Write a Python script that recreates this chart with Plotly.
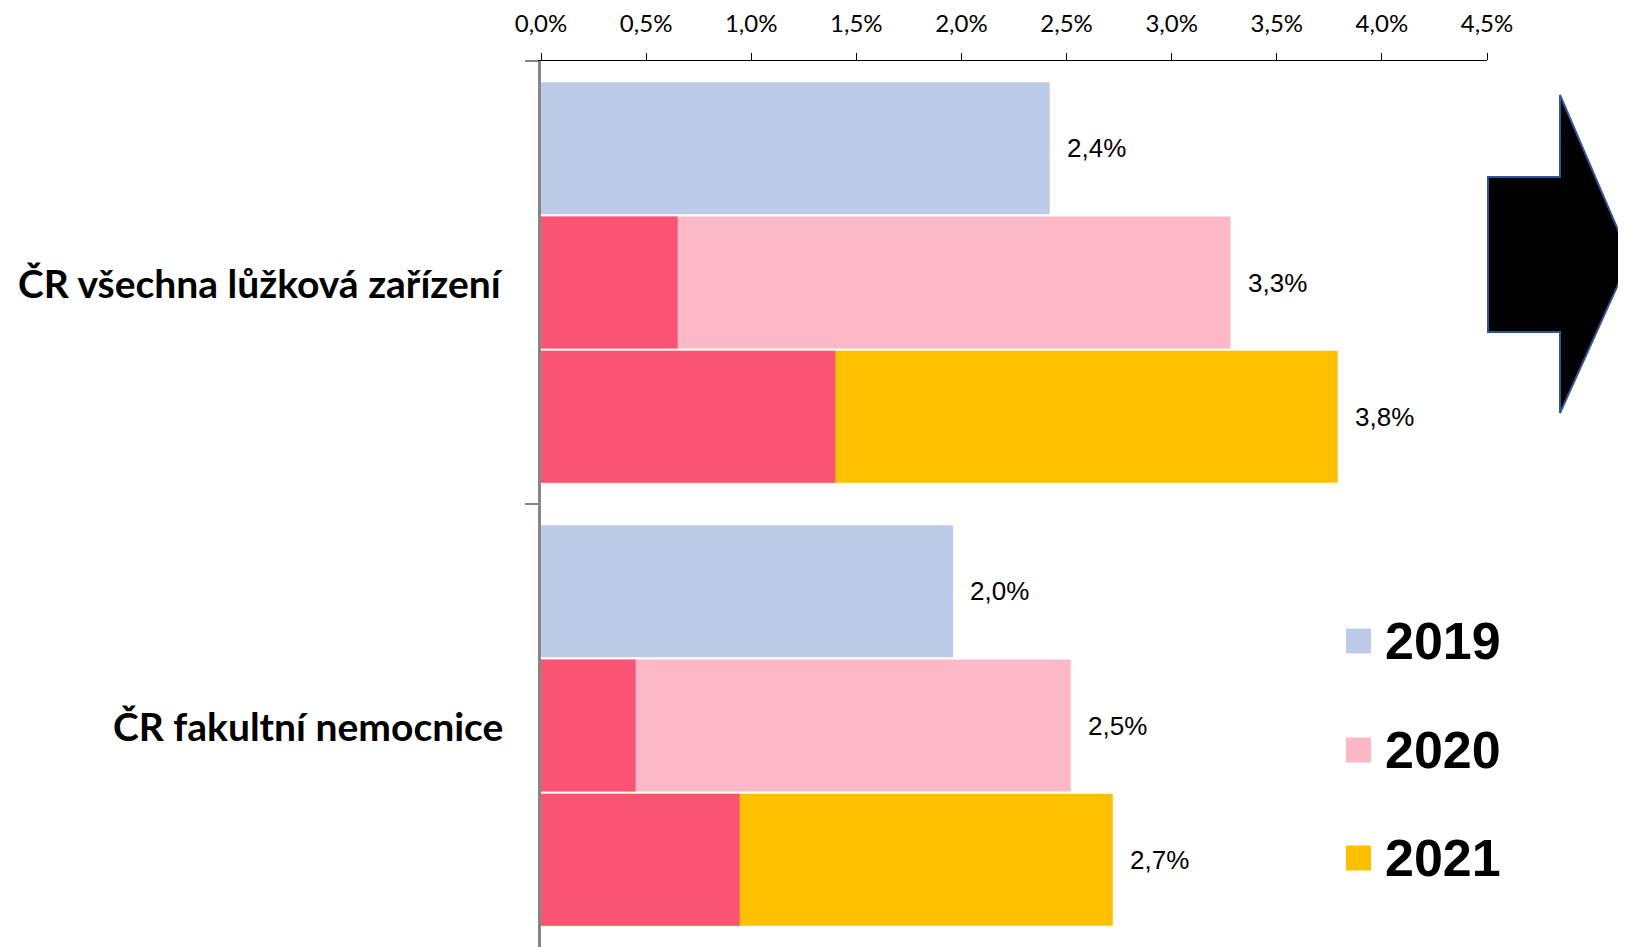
import plotly.graph_objects as go

# ---- data ----
categories = ["ČR všechna lůžková zařízení", "ČR fakultní nemocnice"]
years = ["2019", "2020", "2021"]
total_2019 = [2.42, 1.96]
total_2020 = [3.28, 2.52]
total_2021 = [3.79, 2.72]
part_2020 = [0.65, 0.45]     # highlighted (dark red) share of 2020
part_2021 = [1.40, 0.945]    # highlighted (dark red) share of 2021
x_ticks = [0, 0.5, 1.0, 1.5, 2.0, 2.5, 3.0, 3.5, 4.0, 4.5]


def pct(v):
    return f"{v:.1f}".replace(".", ",") + "%"


x_tick_text = [pct(v) for v in x_ticks]

# ---- style ----
C2019 = "#BDCBE8"
C2020 = "#FDB8C7"
C2021 = "#FFC000"
CRED = "#FB5373"

OFF = 8  # page body margin
W, H = 1626 - OFF, 947 - OFF
L, R, T, B = 541 - OFF, 1487 - OFF, 61 - OFF, 947 - OFF


def px(x):  # screen px -> paper
    return (x - OFF - L) / (R - L)


def py(y):
    return (B - (y - OFF)) / (B - T)


CAT_STEP = 3.3


def ypos(ci, yi):
    return CAT_STEP * ci + CAT_STEP / 2 + (yi - 1)


fig = go.Figure()
bw = 0.985
n = len(categories)
fig.add_trace(go.Bar(orientation="h", x=total_2019, y=[ypos(i, 0) for i in range(n)],
                     width=bw, marker=dict(color=C2019, line=dict(width=0)), name="2019"))
fig.add_trace(go.Bar(orientation="h", x=total_2020, y=[ypos(i, 1) for i in range(n)],
                     width=bw, marker=dict(color=C2020, line=dict(width=0)), name="2020"))
fig.add_trace(go.Bar(orientation="h", x=total_2021, y=[ypos(i, 2) for i in range(n)],
                     width=bw, marker=dict(color=C2021, line=dict(width=0)), name="2021"))
fig.add_trace(go.Bar(orientation="h", x=part_2020, y=[ypos(i, 1) for i in range(n)],
                     width=bw, marker=dict(color=CRED, line=dict(width=0)), name="2020 část"))
fig.add_trace(go.Bar(orientation="h", x=part_2021, y=[ypos(i, 2) for i in range(n)],
                     width=bw, marker=dict(color=CRED, line=dict(width=0)), name="2021 část"))

annotations = []
for yi, tot in enumerate([total_2019, total_2020, total_2021]):
    for ci in range(n):
        annotations.append(dict(
            x=tot[ci], y=ypos(ci, yi), xref="x", yref="y",
            text=pct(tot[ci]),
            showarrow=False, xanchor="left", yanchor="middle", xshift=15,
            font=dict(family="Liberation Sans, Arial", size=26, color="black")))

for ci, cat in enumerate(categories):
    annotations.append(dict(
        x=px(505), y=CAT_STEP * ci + CAT_STEP / 2, xref="paper", yref="y",
        text=cat, showarrow=False, xanchor="right", yanchor="middle",
        font=dict(family="Lato, Open Sans", size=39, color="black", weight="bold")))

# legend (manual, large)
shapes = []
leg_y = [641, 750, 858]
leg_col = [C2019, C2020, C2021]
for yy, col, lab in zip(leg_y, leg_col, years):
    shapes.append(dict(type="rect", xref="paper", yref="paper",
                       x0=px(1346), x1=px(1371), y0=py(yy - 12.5), y1=py(yy + 12.5),
                       fillcolor=col, line=dict(width=0)))
    annotations.append(dict(
        x=px(1383), y=py(yy), xref="paper", yref="paper", text=lab,
        showarrow=False, xanchor="left", yanchor="middle",
        font=dict(family="Liberation Sans, Arial", size=52, color="black", weight="bold")))

# arrow
pts = [(1488, 177), (1560, 177), (1560, 95), (1630, 258), (1560, 413), (1560, 332), (1488, 332)]
path = "M " + " L ".join(f"{px(a):.5f},{py(b):.5f}" for a, b in pts) + " Z"
shapes.append(dict(type="path", xref="paper", yref="paper", path=path,
                   fillcolor="black", line=dict(color="#2F5597", width=2)))

fig.update_layout(
    width=W, height=H,
    margin=dict(l=L, r=W - R, t=T, b=0, pad=0),
    paper_bgcolor="white", plot_bgcolor="white",
    barmode="overlay", showlegend=False,
    annotations=annotations, shapes=shapes,
    xaxis=dict(side="top", range=[0, 4.5], tickvals=x_ticks, ticktext=x_tick_text,
               showgrid=False, zeroline=False, showline=True, linecolor="black", linewidth=1,
               ticks="outside", ticklen=7, tickcolor="black", tickwidth=1,
               ticklabelstandoff=11,
               tickfont=dict(family="Lato, Open Sans", size=24, color="black")),
    yaxis=dict(range=[2 * CAT_STEP, 0], tickvals=[0, CAT_STEP], ticktext=["", ""],
               showgrid=False, zeroline=False, showline=True, linecolor="#868686", linewidth=3,
               ticks="outside", ticklen=13, tickcolor="#868686", tickwidth=2),
)

fig.write_html("out.html")
